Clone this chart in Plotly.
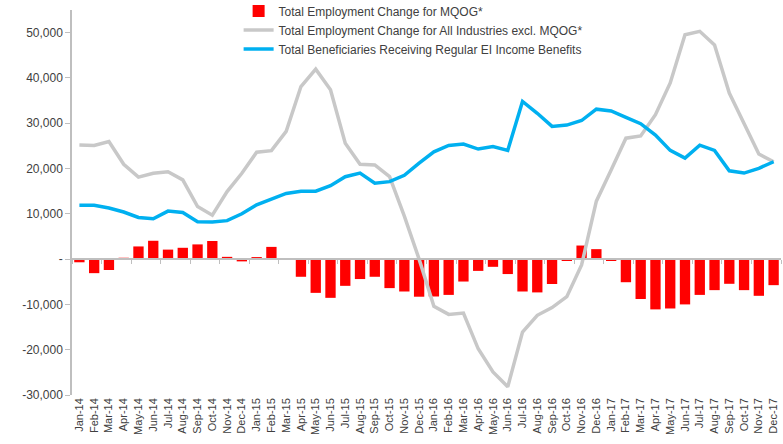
import plotly.graph_objects as go

months = ["Jan-14","Feb-14","Mar-14","Apr-14","May-14","Jun-14","Jul-14","Aug-14","Sep-14","Oct-14","Nov-14","Dec-14",
          "Jan-15","Feb-15","Mar-15","Apr-15","May-15","Jun-15","Jul-15","Aug-15","Sep-15","Oct-15","Nov-15","Dec-15",
          "Jan-16","Feb-16","Mar-16","Apr-16","May-16","Jun-16","Jul-16","Aug-16","Sep-16","Oct-16","Nov-16","Dec-16",
          "Jan-17","Feb-17","Mar-17","Apr-17","May-17","Jun-17","Jul-17","Aug-17","Sep-17","Oct-17","Nov-17","Dec-17"]

mqog_change = [-700, -3100, -2400, 300, 2800, 4050, 2100, 2500, 3250, 4000, 500, -500,
               450, 2700, 200, -3900, -7450, -8550, -5900, -4400, -3900, -6400, -7150, -8300,
               -8250, -7900, -4950, -2600, -1700, -3300, -7150, -7350, -5500, -300, 3000, 2200,
               -300, -5100, -8800, -11100, -10900, -10000, -7900, -6850, -5450, -6850, -8100, -5750]

excl_mqog_change = [25200, 25100, 25950, 20950, 18100, 18950, 19300, 17500, 11600, 9700, 14900, 18950,
                    23600, 23950, 28200, 38100, 41950, 37400, 25600, 20950, 20800, 18200, 9500, 0,
                    -10400, -12200, -11900, -19800, -24900, -28200, -16100, -12400, -10700, -8300, -1300, 12800,
                    19700, 26700, 27200, 31900, 38900, 49550, 50300, 47300, 36650, 30000, 23200, 21500]

ei_beneficiaries = [11900, 11900, 11300, 10400, 9200, 8900, 10600, 10300, 8250, 8200, 8500, 10000,
                    12000, 13300, 14500, 15000, 15000, 16200, 18200, 19000, 16750, 17100, 18500, 21200,
                    23700, 25100, 25400, 24300, 24850, 24000, 34800, 32200, 29300, 29600, 30600, 33100,
                    32700, 31300, 29900, 27400, 24000, 22300, 25150, 24000, 19500, 19000, 20050, 21500]

y_tickvals = [-30000, -20000, -10000, 0, 10000, 20000, 30000, 40000, 50000]
y_ticktext = ["-30,000", "-20,000", "-10,000", "-", "10,000", "20,000", "30,000", "40,000", "50,000"]

names = ["Total Employment Change for MQOG*",
         "Total Employment Change for All Industries excl. MQOG*",
         "Total Beneficiaries Receiving Regular EI Income Benefits"]

y_min, y_max = -30000, 55000
font_family = "Liberation Sans, Arial, sans-serif"
txt_color = "#404040"

fig = go.Figure()
fig.add_trace(go.Bar(x=months, y=mqog_change, name=names[0], marker=dict(color="#ff0000", line=dict(width=0)),
                     xaxis="x", yaxis="y"))
fig.add_trace(go.Scatter(x=months, y=excl_mqog_change, name=names[1], mode="lines",
                         line=dict(color="#c8c8c8", width=3.5), xaxis="x2", yaxis="y"))
fig.add_trace(go.Scatter(x=months, y=ei_beneficiaries, name=names[2], mode="lines",
                         line=dict(color="#00b0f0", width=3.5), xaxis="x2", yaxis="y"))

zero_pos = (0 - y_min) / (y_max - y_min)

fig.update_layout(
    width=783, height=444,
    margin=dict(l=72, r=2, t=10, b=49, autoexpand=False),
    paper_bgcolor="white", plot_bgcolor="white",
    font=dict(family=font_family, size=12, color=txt_color),
    bargap=0.3,
    showlegend=True,
    legend=dict(x=0.235, y=1.035, xanchor="left", yanchor="top", bgcolor="rgba(0,0,0,0)",
                font=dict(size=12, color=txt_color), tracegroupgap=0, traceorder="normal"),
    xaxis=dict(type="category", categoryorder="array", categoryarray=months, range=[-0.5, 47.5],
               autorange=False, automargin=False,
               anchor="free", position=zero_pos, showline=True, linecolor="#bfbfbf", linewidth=1.5,
               ticks="outside", ticklen=4, tickcolor="#bfbfbf", tickson="boundaries",
               showticklabels=False, showgrid=False, zeroline=False),
    xaxis2=dict(type="category", categoryorder="array", categoryarray=months, range=[-0.5, 47.5],
                autorange=False, automargin=False,
                overlaying="x", anchor="y", side="bottom", showline=False, ticks="",
                showticklabels=True, tickangle=-90, tickfont=dict(size=11, color=txt_color),
                showgrid=False, zeroline=False),
    yaxis=dict(range=[y_min, y_max], autorange=False, automargin=False,
               tickvals=y_tickvals, ticktext=y_ticktext,
               showline=True, linecolor="#bfbfbf", linewidth=1.5, ticks="outside", ticklen=5,
               tickcolor="#bfbfbf", showgrid=False, zeroline=False,
               tickfont=dict(size=12, color=txt_color)),
)

fig.write_html("out.html", config={"displayModeBar": False},
               post_script="document.body.style.margin='0px';")
